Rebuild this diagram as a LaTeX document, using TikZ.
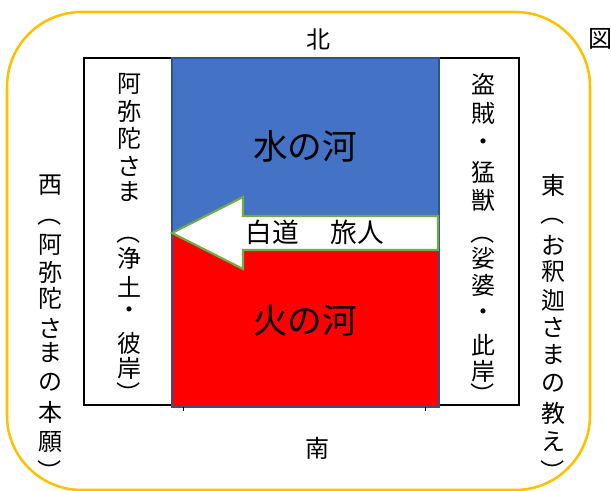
\documentclass[tikz,border=0pt]{standalone}
\usepackage{fontspec}
\newfontfamily\jp{Noto Sans CJK JP}
\definecolor{gold}{HTML}{FFC000}
\definecolor{waterblue}{HTML}{4472C4}
\definecolor{edgeblue}{HTML}{2F528F}
\definecolor{firered}{HTML}{FF0000}
\definecolor{pathgreen}{HTML}{70AD47}
\begin{document}
\begin{tikzpicture}[x=0.75pt,y=-0.75pt,
  ch/.style={font=\jp\fontsize{18pt}{18pt}\selectfont, inner sep=0pt, text=black},
  pathtext/.style={font=\jp\fontsize{20pt}{20pt}\selectfont, inner sep=0pt, text=black},
  big/.style={font=\jp\fontsize{26pt}{26pt}\selectfont, inner sep=0pt, text=black},
  frame/.style={draw=gold, line width=1.9pt, rounded corners=56pt},
  field/.style={draw=black, line width=1.8pt, fill=white},
  river/.style={draw=edgeblue, line width=1.5pt},
  whitepath/.style={draw=pathgreen, fill=white, line width=1.6pt, line join=miter}]
\useasboundingbox (0,0) rectangle (611,491);
% outer frame
\draw[frame] (7,12) rectangle (590,490);
% field
\draw[field] (84,58) rectangle (519,405);
% rivers
\fill[waterblue] (172,58) rectangle (439,233);
\fill[firered] (172,233) rectangle (439,407);
\draw[river] (172,58) rectangle (439,407);
\draw[black, line width=0.6pt] (183,407) -- (183,411) (425,407) -- (425,411);
% white path arrow
\draw[whitepath] (172,233) -- (243,197) -- (243,216) -- (438,216) -- (438,250) -- (243,250) -- (243,269) -- cycle;
\node[pathtext] (path) at (315,232) {白道\hspace{23.8pt}旅人};
\node[big] (water) at (305,146) {水の河};
\node[big] (fire) at (305,321) {火の河};
% directions
\node[ch] (north) at (318,39) {北};
\node[ch] (south) at (317,448) {南};
\node[ch] (fig) at (600,39) {図};
% west outer column
\foreach \c/\y/\rot [count=\i] in {西/185/0,（/215/-90,阿/245/0,弥/272/0,陀/298/0,さ/328/0,ま/353/0,の/382/0,本/412/0,願/442/0,）/472/-90}
  \node[ch, rotate=\rot] (wo\i) at (50,\y) {\c};
% west inner column
\foreach \c/\y/\rot [count=\i] in {阿/84/0,弥/111/0,陀/138/0,さ/166/0,ま/192/0,（/233/-90,浄/258/0,土/287/0,・/313/0,彼/343/0,岸/368/0,）/394/-90}
  \node[ch, rotate=\rot] (wi\i) at (129,\y) {\c};
% east inner column
\foreach \c/\y/\rot [count=\i] in {盗/84/0,賊/113/0,・/145/0,猛/172/0,獣/200/0,（/233/-90,娑/258/0,婆/285/0,・/315/0,此/345/0,岸/371/0,）/395/-90}
  \node[ch, rotate=\rot] (ei\i) at (483,\y) {\c};
% east outer column
\foreach \c/\y/\rot [count=\i] in {東/185/0,（/214/-90,お/245/0,釈/272/0,迦/300/0,さ/327/0,ま/355/0,の/383/0,教/413/0,え/442/0,）/472/-90}
  \node[ch, rotate=\rot] (eo\i) at (553,\y) {\c};
\end{tikzpicture}
\end{document}
